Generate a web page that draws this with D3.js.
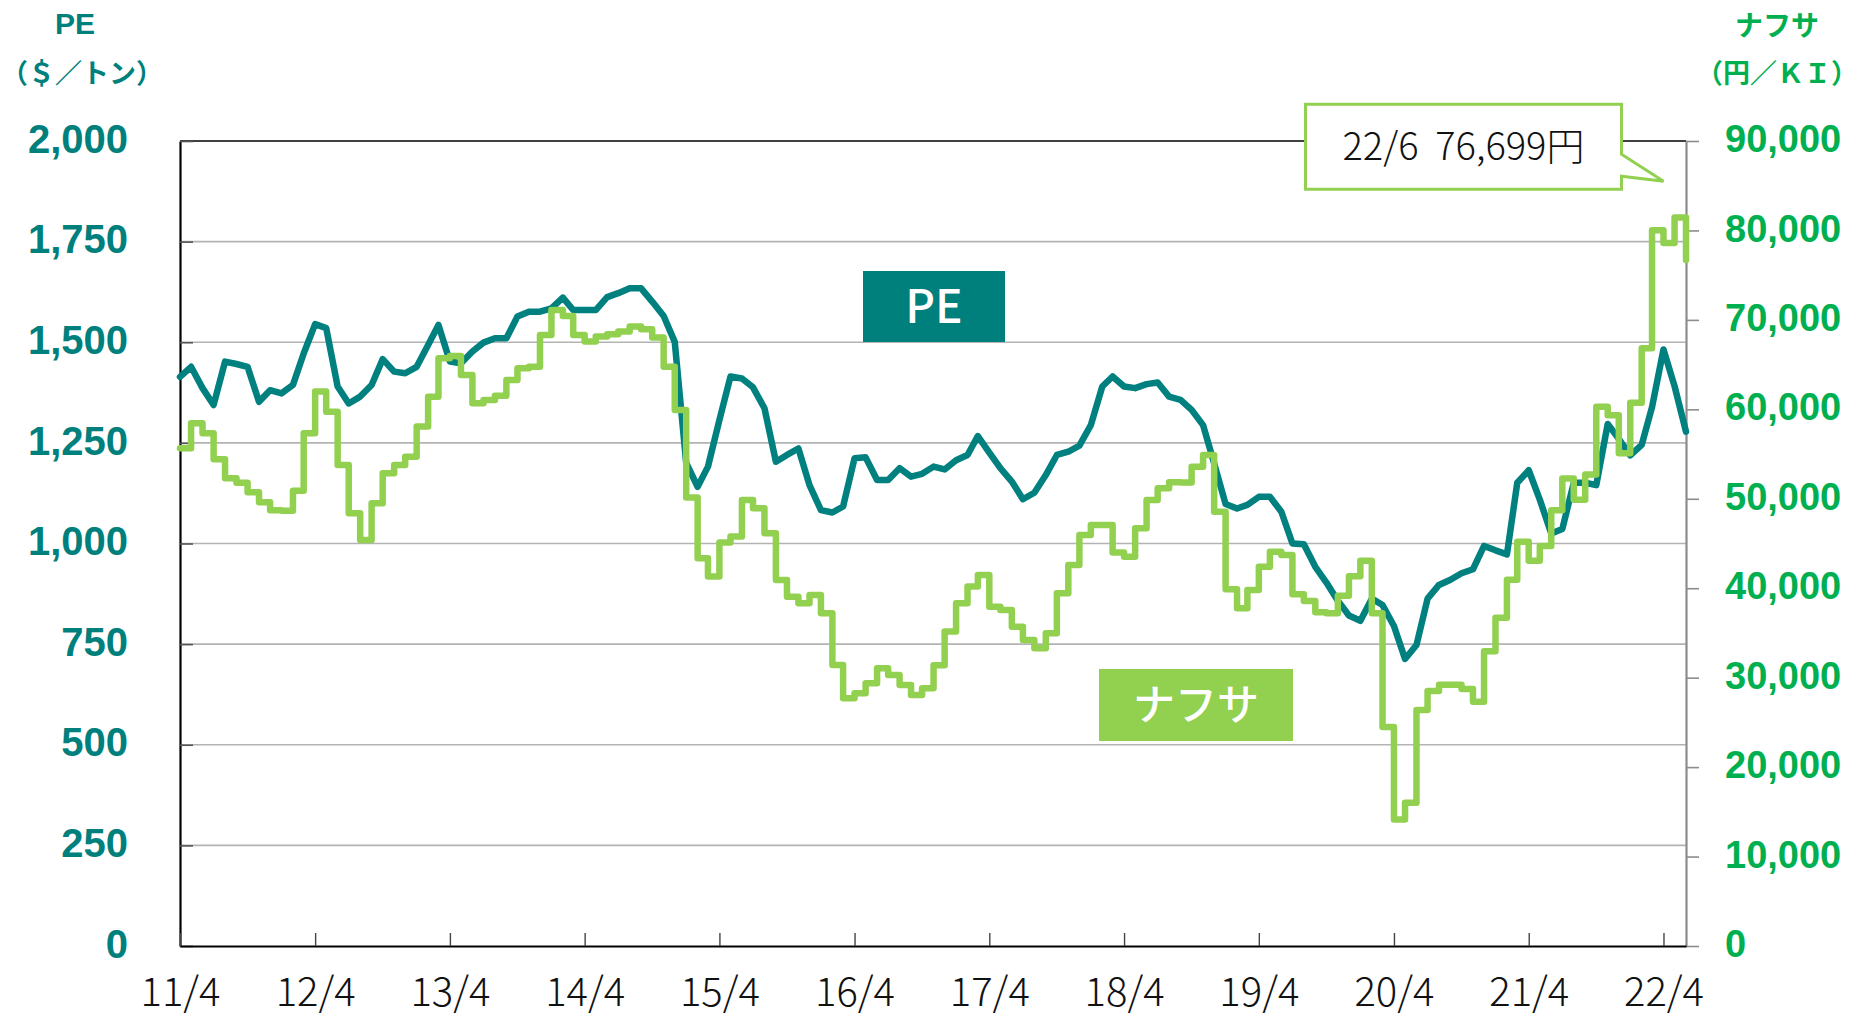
<!DOCTYPE html>
<html>
<head>
<meta charset="utf-8">
<script src="https://cdn.jsdelivr.net/npm/d3@7"></script>
<style>
  body { margin: 0; background: #fff; }
</style>
</head>
<body>
<div id="chart"></div>
<script>
// monthly series, 2011/4 .. 2022/6 (135 months)
const firstMonth = new Date(2011, 3, 1);
const lastMonth = new Date(2022, 5, 1);

// PE ($/ton), left axis
const pe = [
  1414, 1439, 1386, 1344, 1452, 1446, 1439, 1352, 1381, 1373, 1394, 1472,
  1545, 1535, 1390, 1348, 1365, 1394, 1458, 1427, 1423, 1439, 1493, 1543,
  1452, 1448, 1477, 1499, 1510, 1510, 1564, 1576, 1576, 1584, 1611, 1580,
  1580, 1580, 1612, 1622, 1634, 1634, 1601, 1565, 1501, 1200, 1141, 1191,
  1307, 1415, 1410, 1388, 1336, 1203, 1220, 1236, 1145, 1083, 1077, 1092,
  1212, 1214, 1158, 1158, 1187, 1166, 1173, 1191, 1184, 1207, 1220, 1267,
  1226, 1187, 1154, 1110, 1126, 1170, 1220, 1228, 1243, 1294, 1390, 1415,
  1390, 1386, 1396, 1400, 1365, 1357, 1332, 1294, 1199, 1098, 1087, 1096,
  1116, 1116, 1079, 1000, 998, 942, 903, 858, 821, 808, 863, 847,
  795, 713, 748, 863, 897, 910, 926, 936, 994, 983, 973, 1151,
  1182, 1109, 1025, 1036, 1151, 1151, 1145, 1297, 1260, 1219, 1245, 1339,
  1482, 1391, 1278
];

// naphtha (yen/kl), right axis
const naphtha = [
  55640, 58440, 57320, 54410, 52290, 51800, 50720, 49600, 48710, 48670, 50910, 57320,
  61980, 59740, 53780, 48380, 45390, 49490, 52850, 53780, 54710, 58070, 61420, 65710,
  65970, 63840, 60680, 61050, 61530, 63280, 64590, 64770, 68320, 71110, 70440, 68320,
  67570, 68130, 68390, 68690, 69250, 68950, 68020, 64770, 59930, 50130, 43350, 41300,
  45100, 45770, 49870, 48940, 46140, 40920, 39060, 38320, 39240, 37190, 31420, 27690,
  28250, 29370, 31050, 30300, 29180, 28060, 28810, 31380, 35150, 38310, 40180, 41480,
  37940, 37570, 35700, 34210, 33280, 34960, 39430, 42600, 45950, 47070, 47070, 43980,
  43530, 46700, 49870, 51170, 51840, 51810, 53590, 54900, 48560, 39880, 37750, 39800,
  42410, 44090, 43720, 39320, 38560, 37300, 37190, 39170, 41330, 43070, 37190, 24490,
  14140, 16010, 26390, 28500, 29200, 29200, 28730, 27300, 32960, 36700, 40950, 45190,
  43070, 44720, 48720, 52260, 49890, 52720, 60280, 59340, 55100, 60750, 66840, 80010,
  78610, 81440, 76699
];

const peTicks = [0, 250, 500, 750, 1000, 1250, 1500, 1750, 2000];
const naphthaTicks = [0, 10000, 20000, 30000, 40000, 50000, 60000, 70000, 80000, 90000];
const calloutText = "22/6  76,699円";
const calloutAt = {date: new Date(2022, 3, 1), value: 85500};

const width = 1869, height = 1019;
const margin = {left: 180, right: 183, top: 141, bottom: 73};

const teal = "#00807d", tealLine = "#00807f";
const green = "#00b050", lightGreen = "#92d050";
const jp = "'Noto Sans CJK JP', 'Noto Sans', sans-serif";
const latin = "'Liberation Sans', Arial, 'Noto Sans CJK JP', sans-serif";

const months = d3.timeMonth.range(firstMonth, d3.timeMonth.offset(lastMonth, 1));
const peData = months.map((d, i) => ({date: d, value: pe[i]}));
const naData = months.map((d, i) => ({date: d, value: naphtha[i]}));

const x = d3.scaleTime()
    .domain([firstMonth, lastMonth])
    .range([margin.left, width - margin.right]);

const yL = d3.scaleLinear()
    .domain([0, 2000])
    .range([height - margin.bottom, margin.top]);

const yR = d3.scaleLinear()
    .domain([0, 90000])
    .range([height - margin.bottom, margin.top]);

const svg = d3.select("#chart")
    .append("svg")
    .attr("width", width)
    .attr("height", height)
    .attr("viewBox", [0, 0, width, height]);

// grid
svg.append("g")
    .selectAll("line")
    .data(peTicks.slice(1, -1))
    .join("line")
    .attr("x1", margin.left)
    .attr("x2", width - margin.right)
    .attr("y1", d => yL(d))
    .attr("y2", d => yL(d))
    .attr("stroke", "#b3b3b3")
    .attr("stroke-width", 1.6);

// top frame
svg.append("line")
    .attr("x1", margin.left)
    .attr("x2", width - margin.right)
    .attr("y1", margin.top)
    .attr("y2", margin.top)
    .attr("stroke", "#000")
    .attr("stroke-width", 1.6);

// left axis
const leftAxis = svg.append("g")
    .attr("transform", `translate(${margin.left},0)`)
    .call(d3.axisLeft(yL).tickValues(peTicks).tickSize(-13).tickSizeOuter(0)
        .tickPadding(52).tickFormat(d3.format(",")));
leftAxis.select(".domain").attr("stroke", "#000").attr("stroke-width", 2.2);
leftAxis.selectAll(".tick line").attr("stroke", "#555").attr("stroke-width", 1.6);
leftAxis.selectAll(".tick text")
    .attr("dy", "0.28em")
    .attr("fill", teal)
    .style("font-family", latin)
    .style("font-weight", "bold")
    .style("font-size", "40px");

// right axis
const rightAxis = svg.append("g")
    .attr("transform", `translate(${width - margin.right},0)`)
    .call(d3.axisRight(yR).tickValues(naphthaTicks).tickSize(13).tickSizeOuter(0)
        .tickPadding(26).tickFormat(d3.format(",")));
rightAxis.select(".domain").attr("stroke", "#8c8c8c").attr("stroke-width", 2.2);
rightAxis.selectAll(".tick line").attr("stroke", "#8c8c8c").attr("stroke-width", 1.6);
rightAxis.selectAll(".tick text")
    .attr("dy", "0.28em")
    .attr("fill", green)
    .style("font-family", latin)
    .style("font-weight", "bold")
    .style("font-size", "38px");

// bottom axis, a tick every April
const aprils = d3.timeMonth.range(firstMonth, lastMonth, 12);
const bottomAxis = svg.append("g")
    .attr("transform", `translate(0,${height - margin.bottom})`)
    .call(d3.axisBottom(x).tickValues(aprils).tickSize(-13).tickSizeOuter(0)
        .tickFormat(d => d3.timeFormat("%y")(d) + "/" + (d.getMonth() + 1)));
bottomAxis.select(".domain").attr("stroke", "#000").attr("stroke-width", 2.2);
bottomAxis.selectAll(".tick line").attr("stroke", "#444").attr("stroke-width", 1.4);
bottomAxis.selectAll(".tick text")
    .attr("y", 60)
    .attr("dy", 0)
    .attr("fill", "#111")
    .style("font-family", jp)
    .style("font-weight", 300)
    .style("font-size", "40px");

// lines
svg.append("path")
    .datum(peData)
    .attr("fill", "none")
    .attr("stroke", tealLine)
    .attr("stroke-width", 6.5)
    .attr("stroke-linejoin", "round")
    .attr("stroke-linecap", "round")
    .attr("d", d3.line().x(d => x(d.date)).y(d => yL(d.value)));

svg.append("path")
    .datum(naData)
    .attr("fill", "none")
    .attr("stroke", lightGreen)
    .attr("stroke-width", 6.5)
    .attr("stroke-linejoin", "round")
    .attr("stroke-linecap", "round")
    .attr("d", d3.line().curve(d3.curveStepAfter).x(d => x(d.date)).y(d => yR(d.value)));

// series labels
function tag(x0, y0, w, h, fill, text, size) {
    svg.append("rect")
        .attr("x", x0).attr("y", y0).attr("width", w).attr("height", h)
        .attr("fill", fill);
    svg.append("text")
        .attr("x", x0 + w / 2)
        .attr("y", y0 + h / 2)
        .attr("dy", "0.36em")
        .attr("text-anchor", "middle")
        .attr("fill", "#fff")
        .style("font-family", jp)
        .style("font-weight", 500)
        .style("font-size", size + "px")
        .text(text);
}
tag(863, 271, 142, 71, teal, "PE", 46);
tag(1099, 669, 194, 72, lightGreen, "ナフサ", 42);

// callout
const tx = x(calloutAt.date), ty = yR(calloutAt.value);
const bx0 = tx - 358, bx1 = tx - 42, by0 = ty - 77, by1 = ty + 8;
svg.append("path")
    .attr("d", `M${bx0},${by0}H${bx1}V${ty - 27}L${tx},${ty}L${bx1},${ty - 5}V${by1}H${bx0}Z`)
    .attr("fill", "#fff")
    .attr("stroke", lightGreen)
    .attr("stroke-width", 3);
svg.append("text")
    .attr("x", (bx0 + bx1) / 2)
    .attr("y", (by0 + by1) / 2)
    .attr("dy", "0.36em")
    .attr("text-anchor", "middle")
    .attr("fill", "#111")
    .style("white-space", "pre")
    .style("font-family", jp)
    .style("font-weight", 300)
    .style("font-size", "38px")
    .text(calloutText);

// axis titles
function title(cx, y, text, color, size, family) {
    svg.append("text")
        .attr("x", cx).attr("y", y)
        .attr("text-anchor", "middle")
        .attr("fill", color)
        .style("font-family", family)
        .style("font-weight", "bold")
        .style("font-size", size + "px")
        .text(text);
}
title(75, 34, "PE", teal, 30, latin);
title(82, 83, "（＄／トン）", teal, 27, jp);
title(1777, 36, "ナフサ", green, 28, jp);
title(1777, 83, "（円／ＫＩ）", green, 27, jp);
</script>
</body>
</html>
